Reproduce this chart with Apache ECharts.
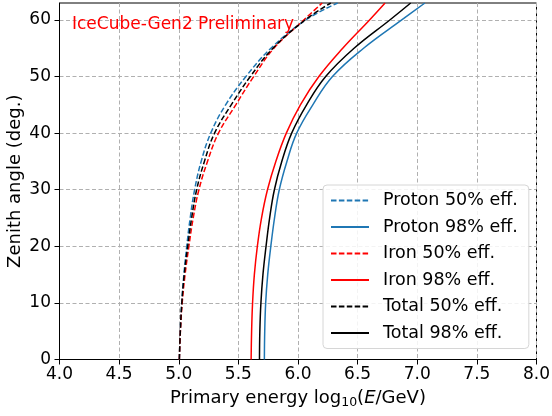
<!DOCTYPE html>
<html>
<head>
<meta charset="utf-8">
<script src="https://cdn.jsdelivr.net/npm/echarts@6/dist/echarts.min.js"></script>
<style>
html,body{margin:0;padding:0;background:#fff;}
#c{width:552px;height:416px;}
</style>
</head>
<body>
<div id="c"></div>
<script>
// Zenith angles (deg.) at which energies were read
const angles = [0,5,10,15,20,25,30,35,40,45,50,55,60,63];
// Primary energy log10(E/GeV) for each curve
const proton50 = [5.005,5.013,5.025,5.043,5.067,5.096,5.133,5.188,5.268,5.393,5.563,5.773,6.063,6.333];
const proton98 = [5.718,5.721,5.729,5.746,5.772,5.803,5.843,5.907,5.989,6.124,6.289,6.550,6.870,7.064];
const iron50   = [5.005,5.014,5.029,5.053,5.085,5.121,5.169,5.241,5.333,5.478,5.628,5.798,6.048,6.203];
const iron98   = [5.607,5.611,5.619,5.634,5.659,5.694,5.744,5.814,5.902,6.020,6.175,6.375,6.600,6.730];
const total50  = [5.005,5.013,5.026,5.046,5.075,5.108,5.150,5.215,5.300,5.440,5.600,5.790,6.060,6.275];
const total98  = [5.677,5.680,5.689,5.706,5.732,5.762,5.802,5.864,5.947,6.072,6.232,6.470,6.770,6.945];
const seriesNames = ['Proton 50% eff.','Proton 98% eff.','Iron 50% eff.','Iron 98% eff.','Total 50% eff.','Total 98% eff.'];
const xTicks = [4.0,4.5,5.0,5.5,6.0,6.5,7.0,7.5,8.0];
const yTicks = [0,10,20,30,40,50,60];
const annotation = 'IceCube-Gen2 Preliminary';

const FONT = 'DejaVu Sans';
const curves = [
  {name: seriesNames[0], vals: proton50, color: '#1f77b4', dashed: true},
  {name: seriesNames[1], vals: proton98, color: '#1f77b4', dashed: false},
  {name: seriesNames[2], vals: iron50,   color: '#ff0000', dashed: true},
  {name: seriesNames[3], vals: iron98,   color: '#ff0000', dashed: false},
  {name: seriesNames[4], vals: total50,  color: '#000000', dashed: true},
  {name: seriesNames[5], vals: total98,  color: '#000000', dashed: false}
];

const chart = echarts.init(document.getElementById('c'), null, {renderer: 'canvas'});
const option = {
  animation: false,
  backgroundColor: '#fff',
  textStyle: {fontFamily: FONT},
  title: {
    text: annotation,
    left: 72, top: 16, padding: 0,
    textStyle: {color: '#ff0000', fontFamily: FONT, fontSize: 17, fontWeight: 'normal'}
  },
  grid: {
    left: 59.5, right: 15.5, top: 3, bottom: 56.5,
    outerBoundsMode: 'none',
    containLabel: false,
    show: true, borderColor: '#000', borderWidth: 1, backgroundColor: 'transparent'
  },
  legend: {
    orient: 'vertical',
    left: 323, top: 185,
    padding: [5, 11, 5, 7],
    itemWidth: 38, itemHeight: 14, itemGap: 5.5,
    backgroundColor: 'rgba(255,255,255,0.85)',
    borderColor: '#d6d6d6', borderWidth: 1, borderRadius: 4,
    itemStyle: {opacity: 0},
    textStyle: {fontFamily: FONT, fontSize: 17.5, lineHeight: 21, color: '#000', padding: [0,0,0,9]},
    data: seriesNames
  },
  xAxis: {
    type: 'value', min: 4, max: 8, interval: 0.5,
    name: '{a|Primary energy log}{s|10}{a|(}{i|E}{a|/GeV)}',
    nameLocation: 'middle', nameGap: 28, nameMoveOverlap: false,
    nameTextStyle: {
      rich: {
        a: {fontFamily: FONT, fontSize: 18, color: '#000'},
        s: {fontFamily: FONT, fontSize: 12.5, color: '#000', verticalAlign: 'bottom', padding: [9,0,0,0]},
        i: {fontFamily: FONT, fontSize: 18, color: '#000', fontStyle: 'italic'}
      }
    },
    axisLine: {onZero: false, lineStyle: {color: '#000', width: 1}},
    axisTick: {show: true, inside: false, length: 5, lineStyle: {color: '#000'}},
    axisLabel: {fontFamily: FONT, fontSize: 17, color: '#000', margin: 7,
      formatter: v => Number(v).toFixed(1)},
    splitLine: {show: true, lineStyle: {color: '#b0b0b0', type: [4, 2.5], width: 1}}
  },
  yAxis: {
    type: 'value', min: 0, max: 63, interval: 10,
    name: 'Zenith angle (deg.)',
    nameLocation: 'middle', nameGap: 35.5, nameRotate: 90, nameMoveOverlap: false,
    nameTextStyle: {fontFamily: FONT, fontSize: 18, color: '#000'},
    axisLine: {onZero: false, lineStyle: {color: '#000', width: 1}},
    axisTick: {show: true, inside: false, length: 5, lineStyle: {color: '#000'}, customValues: yTicks},
    axisLabel: {fontFamily: FONT, fontSize: 17, color: '#000', margin: 8.5, customValues: yTicks},
    splitLine: {show: true, lineStyle: {color: '#b0b0b0', type: [4, 2.5], width: 1}}
  },
  series: curves.map(c => ({
    name: c.name,
    type: 'line',
    data: angles.map((a, i) => [c.vals[i], a]),
    smooth: 0.4,
    showSymbol: false,
    symbol: 'none',
    clip: true,
    lineStyle: {color: c.color, width: 1.5, type: c.dashed ? [5.5, 2.4] : 'solid'},
    itemStyle: {color: c.color},
    emphasis: {disabled: true}
  }))
};
chart.setOption(option);
</script>
</body>
</html>
